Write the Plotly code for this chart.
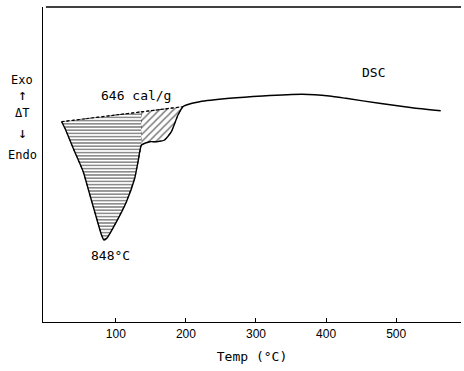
import numpy as np
import plotly.graph_objects as go

# DSC curve (temperature in °C, signal in arbitrary units)
temp = [22.7, 27.4, 39.2, 53.5, 63.0, 72.5, 79.6, 83.0, 87.5, 101.0, 115.2, 127.0, 131.7,
        136.6, 148.4, 157.9, 169.8, 179.3, 188.7, 195.8, 200.6, 219.6, 262.3, 309.3,
        366.2, 404.6, 428.4, 475.8, 522.8, 563.6]
signal = [200.3, 193.7, 173.7, 150.3, 127.0, 103.7, 87.0, 82.0, 84.0, 100.3, 120.3, 143.7, 160.3,
          177.0, 180.3, 180.3, 182.0, 190.3, 207.0, 215.3, 217.0, 220.3, 223.7, 226.0,
          227.7, 226.0, 223.7, 218.7, 214.3, 211.3]

# integration baseline end points
baseline_temp = [22.7, 195.8]
baseline_signal = [200.3, 215.3]
split_temp = 136.6  # boundary between main peak and shoulder

x_ticks = [100, 200, 300, 400, 500]

temp_a = np.array(temp)
sig_a = np.array(signal)


def base_at(t):
    return np.interp(t, baseline_temp, baseline_signal)


# main peak region
m = temp_a <= split_temp
main_x = list(temp_a[m]) + [split_temp, baseline_temp[0]]
main_y = list(sig_a[m]) + [float(base_at(split_temp)), baseline_signal[0]]

# shoulder region
s = (temp_a >= split_temp) & (temp_a <= baseline_temp[1])
sh_x = list(temp_a[s]) + [baseline_temp[1], split_temp]
sh_y = list(sig_a[s]) + [baseline_signal[1], float(base_at(split_temp))]

fig = go.Figure()

fig.add_trace(go.Scatter(
    x=main_x, y=main_y, mode="lines", fill="toself",
    fillcolor="rgba(255,255,255,0)",
    fillpattern=dict(shape="-", fgcolor="black", bgcolor="white", size=3.2, solidity=0.45),
    line=dict(color="black", width=0.8, dash="dot"), hoverinfo="skip", showlegend=False))

fig.add_trace(go.Scatter(
    x=sh_x, y=sh_y, mode="lines", fill="toself",
    fillcolor="rgba(255,255,255,0)",
    fillpattern=dict(shape="/", fgcolor="black", bgcolor="white", size=5, solidity=0.3),
    line=dict(color="black", width=0.8, dash="dot"), hoverinfo="skip", showlegend=False))

# baseline (dashed)
fig.add_trace(go.Scatter(
    x=baseline_temp, y=baseline_signal, mode="lines",
    line=dict(color="black", width=1.2, dash="3px,2px"), showlegend=False))

# DSC curve
fig.add_trace(go.Scatter(
    x=temp, y=signal, mode="lines", line=dict(color="black", width=1.4, shape="spline", smoothing=0.5),
    showlegend=False))

mono = "DejaVu Sans Mono"

annots = [
    dict(text="646 cal/g", x=128.5, y=227, xref="x", yref="y", font=dict(size=13)),
    dict(text="848°C", x=93, y=67, xref="x", yref="y", font=dict(size=13)),
    dict(text="DSC", x=467, y=250, xref="x", yref="y", font=dict(size=13)),
    dict(text="Exo", x=-0.05, y=242, xref="paper", yref="y", font=dict(size=12)),
    dict(text="↑", x=-0.05, y=227, xref="paper", yref="y", font=dict(size=15)),
    dict(text="ΔT", x=-0.05, y=209, xref="paper", yref="y", font=dict(size=12)),
    dict(text="↓", x=-0.05, y=189, xref="paper", yref="y", font=dict(size=15)),
    dict(text="Endo", x=-0.05, y=167, xref="paper", yref="y", font=dict(size=12)),
]
for a in annots:
    a["font"]["family"] = mono
    a["font"]["color"] = "black"
    a["showarrow"] = False
    a["xanchor"] = "center"
    a["yanchor"] = "middle"
    fig.add_annotation(**a)

# top frame line
fig.add_shape(type="line", xref="paper", yref="paper", x0=0.007, x1=1.0, y0=1, y1=1,
              line=dict(color="black", width=1.3))

fig.update_layout(
    width=464, height=371,
    margin=dict(l=43, r=3, t=7, b=49),
    plot_bgcolor="white", paper_bgcolor="white",
    xaxis=dict(range=[-3.9, 592.5], tickvals=x_ticks, ticktext=[str(v) for v in x_ticks],
               ticks="inside", ticklen=4, tickcolor="black", showline=True, linecolor="black",
               linewidth=1.3, showgrid=False, zeroline=False,
               tickfont=dict(family="Liberation Sans Narrow, Liberation Sans", size=12, color="black"),
               title=dict(text="Temp (°C)", font=dict(family=mono, size=13, color="black"), standoff=12)),
    yaxis=dict(range=[0, 315], showticklabels=False, ticks="", showline=True, linecolor="black",
               linewidth=1.3, showgrid=False, zeroline=False),
)

fig.write_html("out.html", config={"displayModeBar": False},
               post_script="document.body.style.margin='0';")
